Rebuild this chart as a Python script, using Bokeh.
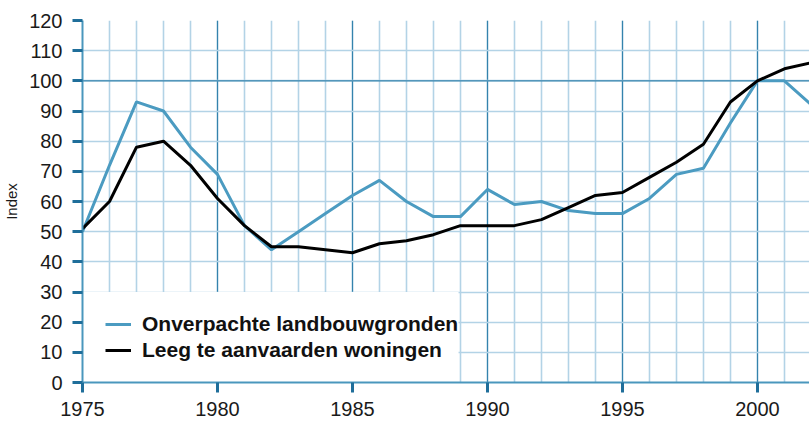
from bokeh.plotting import figure
from bokeh.models import (Range1d, SingleIntervalTicker, Span, Legend, LegendItem,
                          BoxAnnotation)
from bokeh.embed import file_html
from bokeh.resources import INLINE

years = list(range(1975, 2003))
landbouwgronden = [50, 72, 93, 90, 78, 69, 52, 44, 50, 56, 62, 67, 60, 55, 55,
                   64, 59, 60, 57, 56, 56, 61, 69, 71, 86, 100, 100, 92]
woningen = [51, 60, 78, 80, 72, 61, 52, 45, 45, 44, 43, 46, 47, 49, 52,
            52, 52, 54, 58, 62, 63, 68, 73, 79, 93, 100, 104, 106]
y_ticks_interval = 10
x_ticks_interval = 5
label_blue = "Onverpachte landbouwgronden"
label_black = "Leeg te aanvaarden woningen"

BLUE = "#4b9bc1"
AXIS = "#4a97bd"
TICK = "#1f6e9a"
GRID_LIGHT = "#b3d3e6"
GRID_DARK = "#3483ad"
FONT = "Liberation Sans"

p = figure(width=809, height=422, output_backend="svg", toolbar_location=None,
           x_range=Range1d(1975, 2001.93), y_range=Range1d(0, 120),
           min_border_left=82, min_border_right=0, min_border_top=20,
           min_border_bottom=40)
p.outline_line_color = None

xt = SingleIntervalTicker(interval=x_ticks_interval, num_minor_ticks=5)
yt = SingleIntervalTicker(interval=y_ticks_interval, num_minor_ticks=0)
p.xaxis.ticker = xt
p.yaxis.ticker = yt

p.xgrid.ticker = xt
p.xgrid.grid_line_color = GRID_DARK
p.xgrid.grid_line_width = 1.2
p.xgrid.minor_grid_line_color = GRID_LIGHT
p.xgrid.minor_grid_line_width = 1.6
p.ygrid.ticker = yt
p.ygrid.grid_line_color = GRID_LIGHT
p.ygrid.grid_line_width = 1.6

p.add_layout(Span(location=100, dimension="width", line_color=GRID_DARK,
                  line_width=1.2, level="underlay"))

# white background behind the legend (covers the grid in the lower left)
p.add_layout(BoxAnnotation(left=1975, right=1988.93, bottom=0, top=30,
                           fill_color="white", fill_alpha=1, line_color=None,
                           level="underlay"))

for ax in (p.xaxis[0], p.yaxis[0]):
    ax.axis_line_color = AXIS
    ax.axis_line_width = 2
    ax.major_tick_line_color = TICK
    ax.major_tick_line_width = 3
    ax.major_tick_out = 10
    ax.major_tick_in = 0
    ax.minor_tick_line_color = None
    ax.major_label_text_font = FONT
    ax.major_label_text_font_size = "20px"
    ax.major_label_text_color = "#1a1a1a"

p.xaxis.major_label_standoff = 9
p.yaxis.major_label_standoff = 10
p.yaxis.axis_label = "Index"
p.yaxis.axis_label_text_font = FONT
p.yaxis.axis_label_text_font_size = "15px"
p.yaxis.axis_label_text_font_style = "normal"
p.yaxis.axis_label_text_color = "#1a1a1a"
p.yaxis.axis_label_standoff = 6

r1 = p.line(years, landbouwgronden, line_color=BLUE, line_width=3)
r2 = p.line(years, woningen, line_color="black", line_width=3)

legend = Legend(items=[LegendItem(label=label_blue, renderers=[r1]),
                       LegendItem(label=label_black, renderers=[r2])],
                location=(23, 20), margin=0, padding=0, spacing=2,
                glyph_width=26, label_standoff=11,
                background_fill_alpha=0, border_line_color=None,
                label_text_font=FONT, label_text_font_size="21px",
                label_text_font_style="bold", label_text_color="#111111")
p.add_layout(legend)

open("out.html", "w").write(file_html(p, INLINE))
